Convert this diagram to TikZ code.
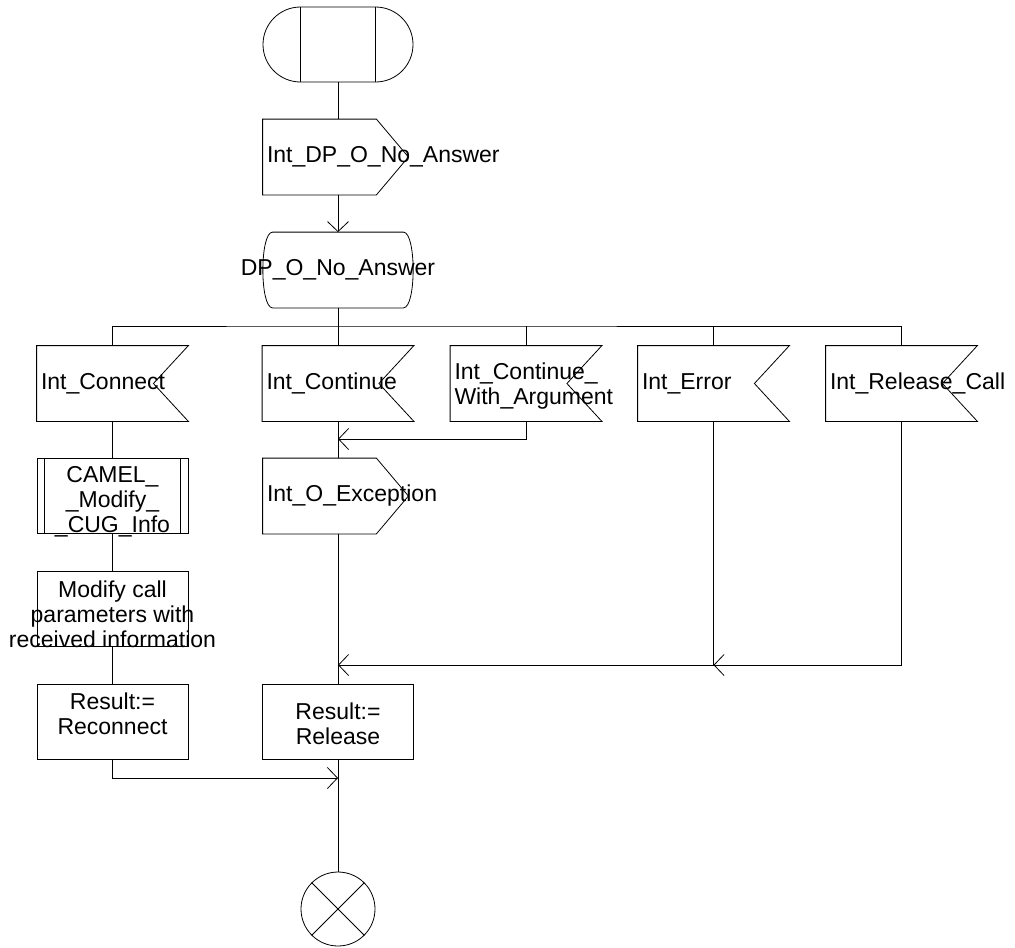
\documentclass[tikz,border=0pt]{standalone}
\usepackage{fontspec}
\setmainfont{Liberation Sans}
\usetikzlibrary{arrows.meta,positioning,shapes.misc}
\def\insig(#1){\draw (#1.north west) -- (#1.north east) -- ([xshift=-35pt]#1.east) -- (#1.south east) -- (#1.south west) -- cycle;}
\def\outsig(#1){\draw (#1.north west) -- ([xshift=-32pt]#1.north east) -- (#1.east) -- ([xshift=-32pt]#1.south east) -- (#1.south west) -- cycle;}

\begin{document}
\begin{tikzpicture}[x=1pt, y=-1pt, line width=0.8pt,
		>={Straight Barb[length=10pt,width=21pt]},
		txt/.style={inner sep=4pt, font=\fontsize{23}{25}\selectfont},
		box/.style={rectangle, minimum width=151pt, minimum height=75pt, inner sep=0pt},
		task/.style={box, draw}]
		%%%%% START %%%%%
		
		\useasboundingbox (0,0) rectangle (1015,948);
		
		\node[draw, rounded rectangle, minimum width=150pt, minimum height=75pt, inner sep=0pt] (start) at (338,44.5) {};
		\draw ([xshift=-37.5pt]start.north) -- ([xshift=-37.5pt]start.south);
		\draw ([xshift=37.5pt]start.north) -- ([xshift=37.5pt]start.south);
		
		\node[box, minimum width=145pt] (dp) at (335.5,157) {};
		\outsig(dp)
		\node[txt, right=0pt of dp.west] (dpT) {Int\_DP\_O\_No\_Answer};
		
		\node[box, minimum width=150pt] (dpS) at (338,270) {};
		\draw ([xshift=10pt]dpS.north west) -- ([xshift=-10pt]dpS.north east) .. controls ([xshift=3pt]dpS.north east) and ([xshift=3pt]dpS.south east) .. ([xshift=-10pt]dpS.south east) -- ([xshift=10pt]dpS.south west) .. controls ([xshift=-3pt]dpS.south west) and ([xshift=-3pt]dpS.north west) .. cycle;
		\node[txt] (dpST) at (dpS) {DP\_O\_No\_Answer};
		
		\coordinate (bus) at (338,326);
		
		\node[box] (conn) at (112.5,383.5) {};
		\insig(conn)
		\node[txt, right=0pt of conn.west] (connT) {Int\_Connect};
		\node[box] (cont) at (338,383.5) {};
		\insig(cont)
		\node[txt, right=0pt of cont.west] (contT) {Int\_Continue};
		\node[box] (cwa) at (526,383.5) {};
		\insig(cwa)
		\node[txt, align=left, right=0pt of cwa.west, yshift=-2.5pt] (cwaT) {Int\_Continue\_\\With\_Argument};
		\node[box] (err) at (713.5,383.5) {};
		\insig(err)
		\node[txt, right=0pt of err.west] (errT) {Int\_Error};
		\node[box] (rel) at (901.5,383.5) {};
		\insig(rel)
		\node[txt, right=0pt of rel.west] (relT) {Int\_Release\_Call};
		
		\node[task] (cml) at (112.5,496) {};
		\draw ([xshift=8pt]cml.north west) -- ([xshift=8pt]cml.south west);
		\draw ([xshift=-8pt]cml.north east) -- ([xshift=-8pt]cml.south east);
		\node[txt, align=center] (cmlT) at ([yshift=-6pt]cml.center) {CAMEL\_\\\_Modify\_\\\_CUG\_Info};
		
		\node[task] (mod) at (112.5,608.5) {};
		\node[txt, align=center] (modT) at ([yshift=-5.5pt]mod.center) {Modify call\\parameters with\\received information};
		
		\node[task] (recon) at (112.5,721.5) {};
		\node[txt, align=center] (reconT) at ([yshift=7.5pt]recon.center) {Result:=\\Reconnect};
		
		\node[box, minimum width=145pt] (oexc) at (335.5,496) {};
		\outsig(oexc)
		\node[txt, right=0pt of oexc.west] (oexcT) {Int\_O\_Exception};
		
		\node[task] (relres) at (338,721.5) {};
		\node[txt, align=center] (relresT) at ([yshift=-2.5pt]relres.center) {Result:=\\Release};
		
		\node[draw, circle, minimum size=74pt, inner sep=0pt] (stop) at (338,909) {};
		\draw (stop.north west) -- (stop.south east);
		\draw (stop.north east) -- (stop.south west);
		
		\coordinate (jA) at (338,439);
		\coordinate (jB) at (338,665);
		\coordinate (jC) at (338,778);
		
		\draw (start.south) -- (start.south |- dp.north);
		\draw[->] (start.south |- dp.south) -- (dpS.north);
		\draw (dpS.south) -- (bus);
		\draw (conn.north) |- (bus) -| (rel.north);
		\draw (cont.north) -- (bus);
		\draw (cwa.north) -- (cwa.north |- bus);
		\draw (err.north) -- (err.north |- bus);
		
		\draw (conn.south) -- (cml.north);
		\draw (cml.south) -- (mod.north);
		\draw (mod.south) -- (recon.north);
		\draw[->] (recon.south) |- (jC);
		
		\draw (cont.south) -- (cont.south |- oexc.north);
		\draw[->] (cwa.south) |- (jA);
		\draw (cont.south |- oexc.south) -- (relres.north);
		\draw[->] (err.south) |- (jB);
		\draw[->] (rel.south) |- (err.south |- jB);
		\draw (relres.south) -- (stop.north);
		
		%%%%% END %%%%%
\end{tikzpicture}
\end{document}
